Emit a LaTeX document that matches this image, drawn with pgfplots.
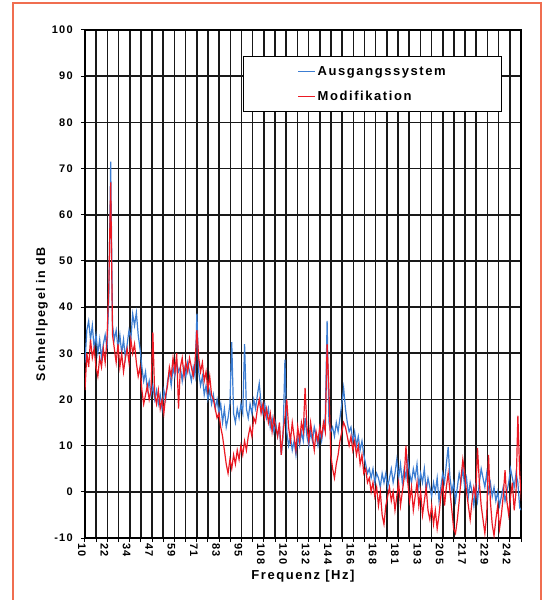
\documentclass[border=0pt]{standalone}
\usepackage{fontspec}
\setmainfont{Liberation Sans}[LetterSpace=12]
\usepackage{pgfplots}
\pgfplotsset{compat=1.18}
\definecolor{cblue}{RGB}{60,125,210}
\definecolor{cred}{RGB}{235,25,35}
\definecolor{cframe}{RGB}{240,110,80}
\begin{document}
\begin{tikzpicture}
\useasboundingbox (0pt,0pt) rectangle (543pt,600pt);
\draw[cframe, line width=1.5pt] (13pt,-10pt) rectangle (541pt,597pt);
\begin{axis}[
  at={(85pt,62pt)}, anchor=south west, scale only axis,
  width=436pt, height=508pt,
  xmin=10, xmax=247.705, ymin=-10, ymax=100,
  xtick={10,22.19,34.38,46.57,58.76,70.95,83.14,95.33,107.52,119.71,131.9,144.09,156.28,168.47,180.66,192.85,205.04,217.23,229.42,241.61},
  xticklabels={10,22,34,47,59,71,83,95,108,120,132,144,156,168,181,193,205,217,229,242},
  minor xtick={16.095,28.285,40.475,52.665,64.855,77.045,89.235,101.425,113.615,125.805,137.995,150.185,162.375,174.565,186.755,198.945,211.135,223.325,235.515,247.705},
  ytick={-10,0,10,20,30,40,50,60,70,80,90,100},
  yticklabels={-10,0,10,20,30,40,50,60,70,80,90,100},
  tick pos=left, tick align=outside,
  major tick length=4pt, minor tick length=4pt,
  tick style={black, line width=1pt},
  grid=both,
  major grid style={line width=1.6pt, black!90},
  minor grid style={line width=1.6pt, black!90},
  axis line style={line width=1.8pt, black},
  ticklabel style={font=\bfseries\fontsize{11}{13}\selectfont},
  xticklabel style={rotate=-90, anchor=west, inner sep=1pt, xshift=0pt, yshift=-3pt},
  yticklabel style={anchor=east, inner sep=1pt, xshift=-7pt},
  xlabel={Frequenz [Hz]}, ylabel={Schnellpegel in dB},
  xlabel style={font=\bfseries\fontsize{13}{15}\selectfont, at={(axis description cs:0.5,-0.075)}, anchor=center},
  ylabel style={font=\bfseries\fontsize{12.5}{15}\selectfont, at={(axis description cs:-0.099,0.44)}, anchor=center},
  legend style={at={(0.362,0.949)}, anchor=north west, draw=black, line width=1.2pt, fill=white,
    font=\bfseries\fontsize{13}{15}\selectfont, inner xsep=54pt, inner ysep=8pt, row sep=10pt},
  legend cell align=left,
  legend image code/.code={\draw[#1, line width=1.3pt] (0pt,0pt) -- (17pt,0pt);},
]
\addplot[cblue, line width=1.2pt] coordinates {
(10,28)(11,35)(12,37)(13,33)(14,36)(15,31)(16,34)(17,30)(18,33)(19,29)
(20,32)(21,34)(22,31)(23,42)(24,71.5)(25,36)(26,33)(27,35)(28,31)(29,34)
(30,30)(31,33)(32,29)(33,32)(34,35)(35,33)(36,38.5)(37,36)(38,38.8)(39,34)
(40,31)(41,27)(42,24)(43,26)(44,22)(45,24)(46,21)(47,23)(48,20)(49,22)
(50,19)(51,21)(52,18)(53,22)(54,20)(55,24)(56,26)(57,23)(58,27)(59,25)
(60,28)(61,26)(62,27)(63,24)(64,27)(65,25)(66,28)(67,26)(68,24)(69,27)
(70,25)(71,38.6)(72,26)(73,23)(74,25)(75,21)(76,23)(77,20)(78,22)(79,19)
(80,21)(81,18)(82,20)(83,17)(84,19)(85,15)(86,18)(87,14)(88,16)(89,19)
(90,32.4)(91,17)(92,15)(93,18)(94,16)(95,19)(96,17)(97,32)(98,18)(99,16)
(100,19)(101,17)(102,20)(103,18)(104,21)(105,23.5)(106,19)(107,17)(108,19)(109,16)
(110,18)(111,14)(112,16)(113,13)(114,15)(115,12)(116,14)(117,8)(118,12)(119,28.6)
(120,13)(121,10)(122,12)(123,9)(124,11)(125,8)(126,12)(127,10)(128,13)(129,11)
(130,16)(131,12)(132,10)(133,13)(134,11)(135,14)(136,12)(137,10)(138,13)(139,11)
(140,14)(141,16)(142,37)(143,15)(144,13)(145,14)(146,12)(147,15)(148,13)(149,16)
(150,19)(151,22.5)(152,18)(153,15)(154,13)(155,14)(156,11)(157,13)(158,10)(159,12)
(160,9)(161,11)(162,8)(163,6)(164,4)(165,5)(166,3)(167,5)(168,2)(169,4)
(170,3)(171,1)(172,4)(173,2)(174,4)(175,1)(176,3)(177,5)(178,2)(179,4)
(180,7)(181,3)(182,6)(183,2)(184,5)(185,3)(186,7)(187,4)(188,2)(189,5)
(190,3)(191,6)(192,1)(193,4)(194,2)(195,5)(196,0)(197,3)(198,1)(199,-1)
(200,2)(201,0)(202,3)(203,-2)(204,1)(205,4)(206,2)(207,6)(208,9.7)(209,3)
(210,0)(211,2)(212,-2)(213,1)(214,4)(215,2)(216,5)(217,1)(218,3)(219,-1)
(220,2)(221,0)(222,-3)(223,1)(224,-2)(225,2)(226,5)(227,3)(228,1)(229,4)
(230,0)(231,2)(232,-1)(233,1)(234,-2)(235,0)(236,-3)(237,-1)(238,1)(239,-2)
(240,0)(241,2)(242,5)(243,3)(244,1)(245,4)(246,2)(247,-3.5)(248,-4)
};
\addlegendentry{Ausgangssystem}
\addplot[cred, line width=1.2pt] coordinates {
(10,22)(11,30)(12,27)(13,33)(14,29)(15,31)(16,27)(17,25)(18,29)(19,27)
(20,31)(21,28)(22,33)(23,45)(24,67)(25,34)(26,31)(27,28)(28,32)(29,27)
(30,30)(31,26)(32,29)(33,31)(34,28)(35,33)(36,30)(37,32)(38,28)(39,25)
(40,27)(41,22)(42,19)(43,21)(44,23)(45,20)(46,22)(47,34.5)(48,21)(49,19)
(50,22)(51,18)(52,20)(53,17)(54,21)(55,23)(56,27)(57,25)(58,29)(59,26)
(60,30)(61,18)(62,27)(63,29)(64,25)(65,28)(66,26)(67,29)(68,27)(69,25)
(70,28)(71,35)(72,29)(73,26)(74,28)(75,24)(76,26)(77,22)(78,25)(79,21)
(80,20)(81,18)(82,16)(83,17)(84,14)(85,12)(86,9)(87,6)(88,4)(89,7)
(90,5)(91,8)(92,6)(93,9)(94,7)(95,10)(96,8)(97,11)(98,9)(99,12)
(100,14)(101,12)(102,16)(103,15)(104,18)(105,20)(106,17)(107,19)(108,16)(109,18)
(110,15)(111,17)(112,13)(113,16)(114,14)(115,12)(116,15)(117,8)(118,13)(119,16)
(120,20)(121,14)(122,11)(123,15)(124,12)(125,9)(126,14)(127,11)(128,15)(129,13)
(130,22.5)(131,14)(132,11)(133,15)(134,12)(135,9)(136,13)(137,11)(138,14)(139,12)
(140,15)(141,13)(142,32)(143,22)(144,8)(145,5)(146,3)(147,6)(148,8)(149,11)
(150,13)(151,15)(152,14)(153,12)(154,10)(155,12)(156,9)(157,11)(158,8)(159,10)
(160,6)(161,8)(162,4)(163,5)(164,2)(165,3)(166,0)(167,2)(168,-1)(169,1)
(170,-3)(171,0)(172,-5)(173,-7)(174,-3)(175,-1)(176,1)(177,-2)(178,0)(179,-4)
(180,-1)(181,2)(182,-3)(183,0)(184,3)(185,10)(186,2)(187,-2)(188,1)(189,-4)
(190,-1)(191,2)(192,-3)(193,0)(194,-5)(195,-2)(196,1)(197,-4)(198,-6)(199,-3)
(200,-7)(201,-4)(202,-8)(203,-5)(204,-1)(205,2)(206,-3)(207,1)(208,4)(209,0)
(210,-4)(211,-8)(212,-9)(213,-6)(214,-2)(215,3)(216,7)(217,4)(218,0)(219,-3)
(220,-6)(221,-2)(222,1)(223,-1)(224,9.5)(225,2)(226,-3)(227,-6)(228,-9)(229,-5)
(230,8)(231,-2)(232,-7)(233,-9.5)(234,-6)(235,-3)(236,-8)(237,-5)(238,-1)(239,4.7)
(240,-2)(241,-5)(242,-1)(243,2)(244,-4)(245,0)(246,16.5)(247,4)(248,-2)
};
\addlegendentry{Modifikation}
\end{axis}
\end{tikzpicture}
\end{document}
